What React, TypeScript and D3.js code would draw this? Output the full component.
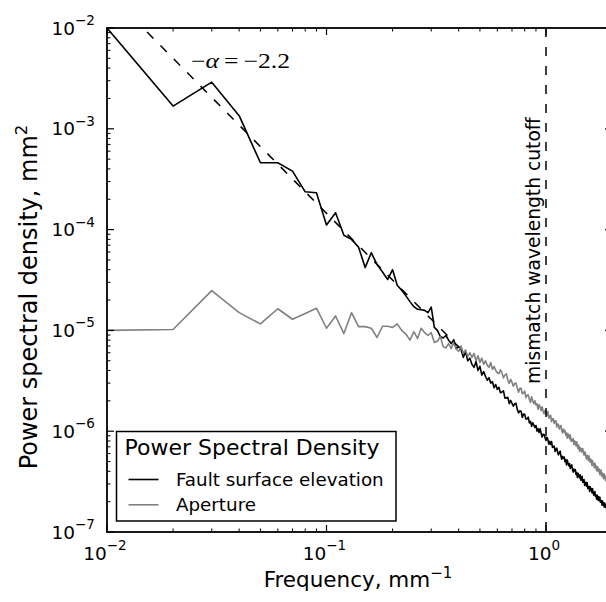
import React from 'react';
import * as d3 from 'd3';

// ---------------- data ----------------
const freqStep = 0.01; // mm^-1, spectral bin width

const faultPSD: number[] = [
  1.0e-2, 1.68e-3, 2.9e-3, 1.35e-3, 4.6e-4, 4.6e-4, 3.8e-4, 2.37e-4, 2.32e-4, 1.11e-4,
  1.47e-4, 8.8e-5, 8.0e-5, 6.7e-5, 4.2e-5, 5.9e-5, 4.5e-5, 3.8e-5, 3.2e-5, 4.0e-5,
  2.8e-5, 2.5e-5, 2.2e-5, 1.93e-5, 1.72e-5, 1.62e-5, 1.6e-5, 1.58e-5, 1.5e-5, 1.7e-5,
  1.07e-5, 1.0e-5, 8.7e-6, 8.4e-6, 8.9e-6, 8.0e-6, 7.4e-6, 8.1e-6, 6.6e-6, 6.9e-6,
  6.5e-6, 5.4e-6, 6.2e-6, 5.0e-6, 5.3e-6, 4.6e-6, 4.3e-6, 4.9e-6, 4.0e-6, 4.4e-6,
  3.6e-6, 3.9e-6, 3.5e-6, 3.2e-6, 3.4e-6, 3.0e-6, 3.1e-6, 2.7e-6, 2.9e-6, 2.6e-6,
  2.73e-6, 2.41e-6, 2.45e-6, 2.51e-6, 2.13e-6, 2.14e-6, 2.17e-6, 1.88e-6, 2.02e-6, 1.89e-6,
  1.77e-6, 1.87e-6, 1.89e-6, 1.64e-6, 1.52e-6, 1.59e-6, 1.58e-6, 1.37e-6, 1.48e-6, 1.47e-6,
  1.32e-6, 1.32e-6, 1.38e-6, 1.21e-6, 1.25e-6, 1.12e-6, 1.21e-6, 1.15e-6, 1.09e-6, 1.14e-6,
  1.0e-6, 1.06e-6, 9.7e-7, 1.06e-6, 9.6e-7, 8.74e-7, 9.32e-7, 9.26e-7, 8.61e-7, 8.08e-7,
  8.72e-7, 8.26e-7, 7.43e-7, 7.93e-7, 7.38e-7, 7.88e-7, 6.91e-7, 7.0e-7, 7.13e-7, 6.31e-7,
  6.63e-7, 6.79e-7, 6.08e-7, 5.83e-7, 6.18e-7, 6.34e-7, 5.64e-7, 5.28e-7, 5.62e-7, 5.4e-7,
  5.55e-7, 4.97e-7, 5.23e-7, 4.63e-7, 5.17e-7, 4.83e-7, 4.55e-7, 4.78e-7, 4.28e-7, 4.51e-7,
  4.64e-7, 4.17e-7, 3.93e-7, 4.22e-7, 4.03e-7, 4.15e-7, 3.72e-7, 3.89e-7, 3.48e-7, 3.82e-7,
  3.65e-7, 3.44e-7, 3.69e-7, 3.26e-7, 3.47e-7, 3.57e-7, 3.12e-7, 3.17e-7, 3.31e-7, 2.9e-7,
  3.1e-7, 3.11e-7, 2.85e-7, 3.07e-7, 2.71e-7, 2.81e-7, 2.84e-7, 2.53e-7, 2.81e-7, 2.58e-7,
  2.69e-7, 2.45e-7, 2.69e-7, 2.46e-7, 2.32e-7, 2.47e-7, 2.51e-7, 2.26e-7, 2.32e-7, 2.12e-7,
  2.32e-7, 2.24e-7, 2.06e-7, 2.24e-7, 2.06e-7, 2.21e-7, 1.97e-7, 2.02e-7, 2.05e-7, 1.84e-7,
  2.03e-7, 1.88e-7, 1.94e-7, 1.77e-7, 1.94e-7, 1.76e-7, 1.82e-7, 1.88e-7, 1.66e-7, 1.68e-7,
  1.77e-7, 1.57e-7, 1.69e-7, 1.64e-7, 1.54e-7, 1.67e-7, 1.51e-7, 1.6e-7, 1.44e-7, 1.54e-7,
];

const aperturePSD: number[] = [
  1.0e-5, 1.02e-5, 2.48e-5, 1.5e-5, 1.16e-5, 1.64e-5, 1.29e-5, 1.47e-5, 1.66e-5, 1.05e-5,
  1.39e-5, 9.3e-6, 1.5e-5, 1.09e-5, 1.09e-5, 1.05e-5, 8.5e-6, 1.1e-5, 1.1e-5, 1.07e-5,
  1.16e-5, 1.0e-5, 9.2e-6, 8.0e-6, 9.7e-6, 8.3e-6, 1.05e-5, 9.5e-6, 8.9e-6, 9.5e-6,
  7.6e-6, 7.8e-6, 8.7e-6, 6.9e-6, 6.7e-6, 7.4e-6, 6.6e-6, 7.6e-6, 6.5e-6, 6.2e-6,
  7.0e-6, 5.9e-6, 6.4e-6, 5.5e-6, 6.0e-6, 5.4e-6, 5.9e-6, 5.0e-6, 5.6e-6, 4.8e-6,
  5.3e-6, 4.6e-6, 5.0e-6, 4.5e-6, 4.3e-6, 4.8e-6, 4.1e-6, 4.4e-6, 4.0e-6, 3.8e-6,
  3.72e-6, 4.06e-6, 3.79e-6, 3.38e-6, 3.61e-6, 3.71e-6, 3.2e-6, 2.98e-6, 3.27e-6, 3.06e-6,
  2.79e-6, 2.98e-6, 3.01e-6, 2.67e-6, 2.44e-6, 2.66e-6, 2.67e-6, 2.35e-6, 2.4e-6, 2.5e-6,
  2.15e-6, 2.27e-6, 2.29e-6, 2.07e-6, 1.93e-6, 2.2e-6, 2.01e-6, 1.87e-6, 2.01e-6, 1.82e-6,
  1.87e-6, 1.65e-6, 1.84e-6, 1.74e-6, 1.6e-6, 1.75e-6, 1.59e-6, 1.49e-6, 1.61e-6, 1.56e-6,
  1.44e-6, 1.57e-6, 1.35e-6, 1.4e-6, 1.44e-6, 1.24e-6, 1.33e-6, 1.33e-6, 1.19e-6, 1.26e-6,
  1.27e-6, 1.1e-6, 1.18e-6, 1.16e-6, 1.05e-6, 1.1e-6, 1.14e-6, 1.01e-6, 9.59e-7, 1.05e-6,
  9.84e-7, 1.02e-6, 9.1e-7, 9.61e-7, 8.52e-7, 9.45e-7, 9.01e-7, 8.43e-7, 9.21e-7, 7.96e-7,
  8.32e-7, 7.95e-7, 8.44e-7, 7.36e-7, 8.02e-7, 7.82e-7, 7.15e-7, 7.84e-7, 7.14e-7, 6.73e-7,
  7.3e-7, 6.34e-7, 6.9e-7, 6.72e-7, 6.21e-7, 6.67e-7, 6.74e-7, 6.08e-7, 5.79e-7, 6.23e-7,
  6.17e-7, 5.56e-7, 5.3e-7, 5.77e-7, 5.57e-7, 5.1e-7, 5.7e-7, 5.15e-7, 4.92e-7, 5.29e-7,
  5.1e-7, 4.54e-7, 5.1e-7, 4.64e-7, 4.71e-7, 4.35e-7, 4.84e-7, 4.32e-7, 4.57e-7, 4.06e-7,
  4.35e-7, 4.44e-7, 3.96e-7, 4.03e-7, 4.21e-7, 3.71e-7, 4.02e-7, 4.12e-7, 3.68e-7, 3.55e-7,
  3.84e-7, 3.68e-7, 3.37e-7, 3.75e-7, 3.42e-7, 3.54e-7, 3.23e-7, 3.62e-7, 3.17e-7, 3.33e-7,
  3.33e-7, 3.0e-7, 3.21e-7, 3.3e-7, 2.91e-7, 2.94e-7, 3.11e-7, 2.74e-7, 2.96e-7, 2.74e-7,
];

const xMajorTicks = [0.01, 0.1, 1];
const xTickExponents = ['\u22122', '\u22121', '0'];
const yMajorTicks = [1e-2, 1e-3, 1e-4, 1e-5, 1e-6, 1e-7];
const yTickExponents = ['\u22122', '\u22123', '\u22124', '\u22125', '\u22126', '\u22127'];

const fitSlope = -2.2;
const fitRefFreq = 0.1;
const fitRefPSD = 1.45e-4;
const fitFreqRange = [0.01, 0.4];
const cutoffFreq = 1.0;

const legendTitle = 'Power Spectral Density';
const seriesNames = ['Fault surface elevation', 'Aperture'];
const seriesColors = ['#000000', '#808080'];

// ---------------- layout ----------------
const W = 606;
const H = 602;
const left = 107;
const top = 28;
const bottom = 532;
const decadePx = 219.5;
const xDomain: [number, number] = [0.01, 2];
const right = left + decadePx * Math.log10(xDomain[1] / xDomain[0]);
const FONT = "'DejaVu Sans', 'Bitstream Vera Sans', sans-serif";
const SERIF = "'Liberation Serif', 'DejaVu Serif', serif";

export default function App() {
  const x = d3.scaleLog().domain(xDomain).range([left, right]);
  const y = d3.scaleLog().domain([1e-7, 1e-2]).range([bottom, top]);

  const freqs = faultPSD.map((_, i) => (i + 1) * freqStep);
  const line = d3
    .line<[number, number]>()
    .x((d) => x(d[0]))
    .y((d) => y(d[1]));

  const faultPts: [number, number][] = faultPSD.map((v, i) => [freqs[i], v]);
  const apPts: [number, number][] = aperturePSD.map((v, i) => [freqs[i], v]);
  const fitPts: [number, number][] = fitFreqRange.map((f) => [
    f,
    fitRefPSD * Math.pow(f / fitRefFreq, fitSlope),
  ]);

  const xMinor: number[] = [];
  [0.01, 0.1, 1].forEach((dec) => {
    for (let m = 2; m <= 9; m++) {
      const v = m * dec;
      if (v <= xDomain[1] + 1e-9) xMinor.push(v);
    }
  });
  const yMinor: number[] = [];
  [1e-7, 1e-6, 1e-5, 1e-4, 1e-3].forEach((dec) => {
    for (let m = 2; m <= 9; m++) yMinor.push(m * dec);
  });

  const majorLen = 7;
  const minorLen = 3.5;

  return (
    <svg
      width={W}
      height={H}
      style={{ position: 'absolute', left: 0, top: 0, background: '#fff' }}
      fontFamily={FONT}
    >
      <rect x={0} y={0} width={W} height={H} fill="#fff" />
      <defs>
        <clipPath id="plotClip">
          <rect x={left} y={top} width={right - left} height={bottom - top} />
        </clipPath>
      </defs>

      <g clipPath="url(#plotClip)">
        <path
          d={line(faultPts) || ''}
          fill="none"
          stroke={seriesColors[0]}
          strokeWidth={1.6}
          strokeLinejoin="round"
        />
        <path
          d={line(apPts) || ''}
          fill="none"
          stroke={seriesColors[1]}
          strokeWidth={1.6}
          strokeLinejoin="round"
        />
        <path
          d={line(fitPts) || ''}
          fill="none"
          stroke="#000"
          strokeWidth={1.5}
          strokeDasharray="9,10"
        />
        <line
          x1={x(cutoffFreq)}
          x2={x(cutoffFreq)}
          y1={top}
          y2={bottom}
          stroke="#000"
          strokeWidth={1.5}
          strokeDasharray="9,10"
        />
      </g>

      {/* annotation of fit */}
      <text
        x={191}
        y={68}
        fontFamily={SERIF}
        fontSize={21}
        textLength={99}
        lengthAdjust="spacingAndGlyphs"
      >
        <tspan>{'\u2212'}</tspan>
        <tspan fontStyle="italic">{'\u03b1'}</tspan>
        <tspan>{'\u2009=\u2009\u22122.2'}</tspan>
      </text>

      {/* cutoff label */}
      <text transform={`translate(540, 384) rotate(-90)`} fontSize={18.7} textAnchor="start">
        mismatch wavelength cutoff
      </text>

      {/* spines */}
      <rect
        x={left}
        y={top}
        width={right - left}
        height={bottom - top}
        fill="none"
        stroke="#000"
        strokeWidth={1.8}
      />

      {/* x ticks */}
      {xMajorTicks.map((t) => (
        <g key={'xM' + t}>
          <line x1={x(t)} x2={x(t)} y1={bottom} y2={bottom - majorLen} stroke="#000" strokeWidth={1.2} />
          <line x1={x(t)} x2={x(t)} y1={top} y2={top + majorLen} stroke="#000" strokeWidth={1.2} />
        </g>
      ))}
      {xMinor.map((t) => (
        <g key={'xm' + t}>
          <line x1={x(t)} x2={x(t)} y1={bottom} y2={bottom - minorLen} stroke="#000" strokeWidth={1} />
          <line x1={x(t)} x2={x(t)} y1={top} y2={top + minorLen} stroke="#000" strokeWidth={1} />
        </g>
      ))}
      {/* y ticks */}
      {yMajorTicks.map((t) => (
        <g key={'yM' + t}>
          <line x1={left} x2={left + majorLen} y1={y(t)} y2={y(t)} stroke="#000" strokeWidth={1.2} />
          <line x1={right} x2={right - majorLen} y1={y(t)} y2={y(t)} stroke="#000" strokeWidth={1.2} />
        </g>
      ))}
      {yMinor.map((t) => (
        <g key={'ym' + t}>
          <line x1={left} x2={left + minorLen} y1={y(t)} y2={y(t)} stroke="#000" strokeWidth={1} />
          <line x1={right} x2={right - minorLen} y1={y(t)} y2={y(t)} stroke="#000" strokeWidth={1} />
        </g>
      ))}

      {/* y tick labels */}
      {yMajorTicks.map((t, i) => (
        <g key={'yl' + t}>
          <text x={75} y={y(t) + 6.5} fontSize={18.5} textAnchor="end">
            10
          </text>
          <text x={75} y={y(t) - 3} fontSize={13.5} textAnchor="start">
            {yTickExponents[i]}
          </text>
        </g>
      ))}

      {/* x tick labels */}
      {xMajorTicks.map((t, i) => {
        const baseW = 1.272 * 18.5;
        const expW = (xTickExponents[i].length === 2 ? 1.474 : 0.636) * 13.5;
        const start = x(t) - 2 - (baseW + expW) / 2;
        return (
          <g key={'xl' + t}>
            <text x={start} y={560} fontSize={18.5}>
              10
            </text>
            <text x={start + baseW} y={550} fontSize={13.5}>
              {xTickExponents[i]}
            </text>
          </g>
        );
      })}

      {/* axis labels */}
      <text x={358} y={587} fontSize={21.5} textAnchor="middle">
        Frequency, mm
        <tspan fontSize={15} dy={-9}>
          {'\u22121'}
        </tspan>
      </text>
      <text transform="translate(37, 297) rotate(-90)" fontSize={24} textAnchor="middle">
        Power spectral density, mm
        <tspan fontSize={16.5} dy={-10}>
          2
        </tspan>
      </text>

      {/* legend */}
      <g>
        <rect x={116.5} y={431.5} width={279.5} height={89.5} fill="#fff" stroke="#000" strokeWidth={1.5} />
        <text x={124.5} y={455} fontSize={22}>
          {legendTitle}
        </text>
        {seriesNames.map((name, i) => (
          <g key={name}>
            <line
              x1={128.5}
              x2={158.5}
              y1={479.5 + i * 25.3}
              y2={479.5 + i * 25.3}
              stroke={seriesColors[i]}
              strokeWidth={1.6}
            />
            <text x={176} y={485.5 + i * 25.3} fontSize={18.3}>
              {name}
            </text>
          </g>
        ))}
      </g>
    </svg>
  );
}
